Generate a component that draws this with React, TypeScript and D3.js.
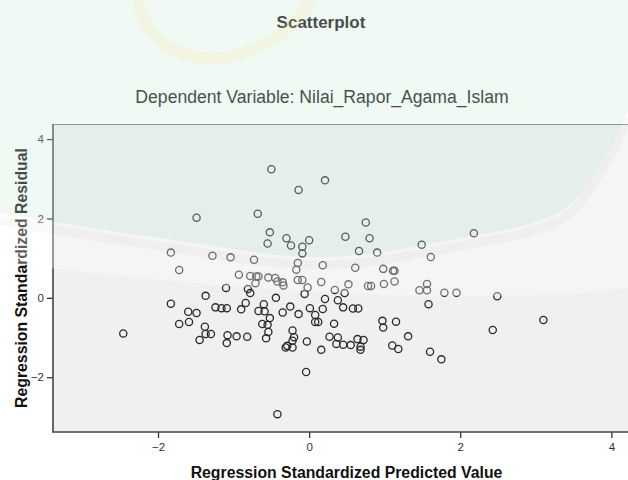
import { useEffect, useRef } from "react";
import * as d3 from "d3";

// standardized predicted value (x) and standardized residual (y)
const predicted = [
  -0.5, -0.14, 0.21, -1.49, -0.68, -0.52, -0.55, -0.3, -0.24, 0.0, -0.09, -0.09,
  -1.83, -1.72, -1.28, -1.04, -0.73, -0.15, -0.17, -0.93, -0.78, -0.7, -0.67, -0.54,
  -0.45, -0.42, -0.35, -0.34, -0.15, -0.09, -0.02, -0.06, 0.16, 0.18, -0.71, -0.81,
  -0.78, -1.1, -1.37, -0.44, 0.75, 0.48, 0.8, 0.66, 0.9, 1.49, 1.61, 2.18,
  0.61, 0.98, 1.11, 1.13, 0.34, 0.47, 0.52, 0.78, 0.82, 0.99, 1.13, 1.46,
  1.56, 1.56, 1.79, 1.95, 2.49, 0.21, 0.38,
  -1.83, -1.6, -1.49, -1.24, -1.16, -1.09, -0.9, -0.84, -0.67, -0.6, -0.59, -0.52,
  -0.62, -0.55, -0.54, -0.57, -0.35, -0.25, -0.14, 0.01, 0.08, 0.08, 0.12, 0.18,
  0.33, -1.72, -1.59, -1.38, -1.37, -1.3, -1.45, -1.08, -1.09, -0.96, -0.82, -2.46,
  -0.22, -0.2, -0.22, -0.22, -0.31, -0.29, -0.03, -0.04, -0.42, 0.16, 0.27, 0.38,
  0.36, 0.45, 0.55, 0.64, 0.72, 0.68, 0.68, 0.45, 0.58, 0.65, 0.97, 0.98,
  1.15, 1.1, 1.18, 1.31, 1.6, 1.75, 1.58, 2.43, 3.1,
];
const residual = [
  3.24, 2.72, 2.96, 2.02, 2.12, 1.65, 1.37, 1.5, 1.32, 1.45, 1.29, 1.12,
  1.14, 0.7, 1.06, 1.02, 0.96, 0.88, 0.71, 0.58, 0.55, 0.54, 0.54, 0.51,
  0.5, 0.41, 0.39, 0.31, 0.45, 0.45, 0.26, 0.1, 0.4, 0.82, 0.37, 0.22,
  0.12, 0.25, 0.05, 0.0, 1.9, 1.54, 1.5, 1.18, 1.14, 1.34, 1.03, 1.63,
  0.76, 0.73, 0.68, 0.68, 0.2, 0.12, 0.34, 0.3, 0.3, 0.35, 0.41, 0.19,
  0.19, 0.35, 0.13, 0.13, 0.04, -0.03, -0.06,
  -0.15, -0.35, -0.38, -0.24, -0.26, -0.26, -0.29, -0.13, -0.33, -0.16, -0.34, -0.51,
  -0.66, -0.68, -0.86, -1.02, -0.37, -0.22, -0.41, -0.26, -0.43, -0.61, -0.61, -0.28,
  -0.65, -0.66, -0.61, -0.73, -0.91, -0.91, -1.06, -0.94, -1.14, -0.97, -0.98, -0.9,
  -0.82, -0.99, -1.08, -1.25, -1.25, -1.21, -1.1, -1.87, -2.93, -1.31, -0.98, -1.0,
  -1.16, -1.18, -1.19, -1.04, -1.06, -1.23, -1.31, -0.24, -0.27, -0.27, -0.58, -0.75,
  -0.6, -1.2, -1.29, -0.97, -1.36, -1.55, -0.16, -0.81, -0.56,
];
const xTicks = [-2, 0, 2, 4];
const yTicks = [-2, 0, 2, 4];

const FONT = "'Liberation Sans', Arial, sans-serif";

const App = () => {
  const ref = useRef<SVGSVGElement | null>(null);

  useEffect(() => {
    const el = ref.current;
    if (!el) return;
    const svg = d3.select(el);
    svg.selectAll("*").remove();

    const W = 628, H = 480;
    const plot = { left: 53, top: 124, right: 628, bottom: 432 };

    svg.append("rect").attr("width", W).attr("height", H).attr("fill", "#ffffff");

    const x = d3.scaleLinear().domain([-3.39, 4.22]).range([plot.left, plot.right]);
    const y = d3.scaleLinear().domain([-3.38, 4.38]).range([plot.bottom, plot.top]);

    // plot background + frame
    svg.append("rect")
      .attr("x", plot.left).attr("y", plot.top)
      .attr("width", plot.right - plot.left + 10).attr("height", plot.bottom - plot.top)
      .attr("fill", "#f0f0f0");
    svg.append("line")
      .attr("x1", plot.left).attr("x2", W).attr("y1", plot.top + 0.5).attr("y2", plot.top + 0.5)
      .attr("stroke", "#777").attr("stroke-width", 1.2);

    // ── axes ─────────────────────────────────────────────
    const xG = svg.append("g")
      .attr("transform", `translate(0,${plot.bottom})`)
      .call(d3.axisBottom(x).tickValues(xTicks).tickSize(6).tickPadding(5).tickFormat(d3.format("d")));
    xG.select(".domain").remove();
    xG.selectAll("line").attr("stroke", "#333").attr("stroke-width", 1.3);
    xG.selectAll("text").style("font-family", FONT).style("font-size", "11.5px").attr("fill", "#333");

    const yG = svg.append("g")
      .attr("transform", `translate(${plot.left},0)`)
      .call(d3.axisLeft(y).tickValues(yTicks).tickSize(6).tickPadding(3).tickFormat(d3.format("d")));
    yG.select(".domain").remove();
    yG.selectAll("line").attr("stroke", "#333").attr("stroke-width", 1.3);
    yG.selectAll("text").style("font-family", FONT).style("font-size", "11.5px").attr("fill", "#333");

    svg.append("line")
      .attr("x1", plot.left).attr("x2", plot.left).attr("y1", plot.top).attr("y2", plot.bottom + 0.8)
      .attr("stroke", "#444").attr("stroke-width", 1.6);
    svg.append("line")
      .attr("x1", plot.left).attr("x2", W).attr("y1", plot.bottom).attr("y2", plot.bottom)
      .attr("stroke", "#444").attr("stroke-width", 1.6);

    // ── points ───────────────────────────────────────────
    svg.append("g")
      .selectAll("circle")
      .data(d3.range(predicted.length))
      .enter()
      .append("circle")
      .attr("cx", i => x(predicted[i]))
      .attr("cy", i => y(residual[i]))
      .attr("r", 3.6)
      .attr("fill", "none")
      .attr("stroke", "#2a2a2a")
      .attr("stroke-width", 1.3);

    // ── titles ───────────────────────────────────────────
    svg.append("text")
      .attr("x", 321).attr("y", 28)
      .attr("text-anchor", "middle")
      .style("font-family", FONT).style("font-size", "17px").style("font-weight", "700")
      .attr("fill", "#111")
      .text("Scatterplot");
    svg.append("text")
      .attr("x", 322).attr("y", 103)
      .attr("text-anchor", "middle")
      .style("font-family", FONT).style("font-size", "17.6px")
      .attr("fill", "#111")
      .text("Dependent Variable: Nilai_Rapor_Agama_Islam");
    svg.append("text")
      .attr("x", (plot.left + plot.right) / 2 + 6).attr("y", 478)
      .attr("text-anchor", "middle")
      .style("font-family", FONT).style("font-size", "15.8px").style("font-weight", "700")
      .attr("fill", "#111")
      .text("Regression Standardized Predicted Value");
    svg.append("text")
      .attr("transform", `translate(27,${(plot.top + plot.bottom) / 2}) rotate(-90)`)
      .attr("text-anchor", "middle")
      .style("font-family", FONT).style("font-size", "15.8px").style("font-weight", "700")
      .attr("fill", "#111")
      .text("Regression Standardized Residual");

    // ── faint watermark on top ───────────────────────────
    const curve = d3.line().curve(d3.curveCatmullRom);
    const edge1: [number, number][] = [[0, 213], [160, 238], [320, 257], [450, 240], [563, 210], [600, 165], [628, 110]];
    const edge2: [number, number][] = [[0, 262], [160, 280], [320, 292], [450, 296], [563, 294], [628, 288]];
    const wm = svg.append("g").style("pointer-events", "none");
    wm.append("path")
      .attr("d", `M0,0 L${W},0 L${W},110 L` + curve([...edge1].reverse())!.slice(1) + " Z")
      .attr("fill", "rgba(200,232,215,0.28)");
    wm.append("path")
      .attr("d", curve(edge1)! + " L" + curve([...edge2].reverse())!.slice(1) + " Z")
      .attr("fill", "rgba(255,255,255,0.32)");
    wm.append("path")
      .attr("d", curve(edge1.map(([a, b]) => [a, b + 8] as [number, number]))!)
      .attr("fill", "none")
      .attr("stroke", "rgba(0,0,0,0.025)")
      .attr("stroke-width", 9);
    wm.append("path")
      .attr("d", "M138,0 C150,75 260,80 312,0")
      .attr("fill", "none")
      .attr("stroke", "rgba(250,230,120,0.14)")
      .attr("stroke-width", 12);

    return () => { svg.selectAll("*").remove(); };
  }, []);

  return (
    <svg
      ref={ref}
      width={628}
      height={480}
      style={{ position: "fixed", left: 0, top: 0, display: "block" }}
    />
  );
};

export default App;
